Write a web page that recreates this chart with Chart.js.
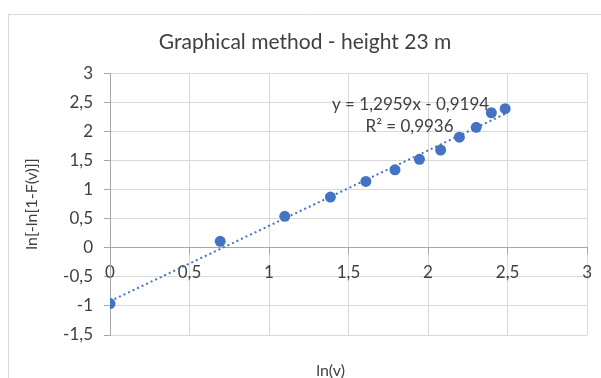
<!DOCTYPE html>
<html>
<head>
<meta charset="utf-8">
<title>Graphical method - height 23 m</title>
<script src="https://cdn.jsdelivr.net/npm/chart.js@4"></script>
<style>
    html, body { margin: 0; padding: 0; background: #fff; }
    #wrap { width: 601px; height: 378px; }
</style>
</head>
<body>
<div id="wrap"><canvas id="chart" width="601" height="378"></canvas></div>
<script>
// Data
const lnV = [0, 0.693, 1.099, 1.386, 1.609, 1.792, 1.946, 2.079, 2.197, 2.303, 2.398, 2.485];
const lnLnF = [-0.96, 0.11, 0.54, 0.87, 1.14, 1.34, 1.52, 1.68, 1.90, 2.07, 2.32, 2.39];
const xTicks = [0, 0.5, 1, 1.5, 2, 2.5, 3];
const yTicks = [-1.5, -1, -0.5, 0, 0.5, 1, 1.5, 2, 2.5, 3];

// Linear trendline as shown in the chart
const slope = 1.2959;
const intercept = -0.9194;
const rSquared = 0.9936;

const FONT = 'Lato, "Open Sans", sans-serif';
const TEXT = '#404040';
const GRID = '#d9d9d9';
const AXIS = '#a6a6a6';
const BLUE = '#4472C4';

// Decimal comma, like the original
function fmt(v) {
    return String(v).replace('.', ',');
}

// Trendline spans the range of the x data
const trendX = [Math.min(...lnV), Math.max(...lnV)];
const trendPoints = trendX.map(x => ({ x: x, y: slope * x + intercept }));
const points = lnV.map((x, i) => ({ x: x, y: lnLnF[i] }));

/**
 * Chart frame, x axis title and trendline label
 */
const excelExtras = {
    id: 'excelExtras',
    beforeDraw(chart) {
        const ctx = chart.ctx;
        ctx.save();
        ctx.fillStyle = '#fff';
        ctx.fillRect(0, 0, chart.width, chart.height);
        ctx.strokeStyle = GRID;
        ctx.lineWidth = 1;
        ctx.beginPath();
        ctx.moveTo(8.5, chart.height);
        ctx.lineTo(8.5, 14.5);
        ctx.lineTo(chart.width, 14.5);
        ctx.stroke();
        ctx.restore();
    },
    afterDatasetsDraw(chart) {
        const ctx = chart.ctx;
        const area = chart.chartArea;
        const xs = chart.scales.x;
        const ys = chart.scales.y;
        ctx.save();
        ctx.fillStyle = TEXT;
        ctx.textAlign = 'center';
        ctx.textBaseline = 'middle';

        // x axis title sits below the plot area
        ctx.font = '16px ' + FONT;
        ctx.fillText('ln(v)', (area.left + area.right) / 2 - 18, area.bottom + 36);

        // trendline equation
        ctx.font = '17px ' + FONT;
        const lx = xs.getPixelForValue(1.89);
        const ly = ys.getPixelForValue(2.46);
        ctx.fillText('y = ' + fmt(slope) + 'x - ' + fmt(-intercept), lx, ly);
        ctx.fillText('R\u00b2 = ' + fmt(rSquared), lx - 1, ly + 22);
        ctx.restore();
    }
};

new Chart(document.getElementById('chart').getContext('2d'), {
    type: 'scatter',
    data: {
        datasets: [{
            label: 'Trendline',
            data: trendPoints,
            showLine: true,
            borderColor: BLUE,
            borderWidth: 2,
            borderDash: [2, 3],
            pointRadius: 0,
            fill: false
        }, {
            label: 'ln[-ln[1-F(v)]]',
            data: points,
            backgroundColor: BLUE,
            borderWidth: 0,
            pointRadius: 5.5,
            showLine: false
        }]
    },
    options: {
        responsive: false,
        animation: false,
        layout: {
            padding: { left: 20, right: 11, top: 0, bottom: 43 }
        },
        plugins: {
            legend: { display: false },
            tooltip: { enabled: false },
            title: {
                display: true,
                text: 'Graphical method - height 23 m',
                color: TEXT,
                font: { family: FONT, size: 21, weight: 'normal' },
                padding: { top: 30, bottom: 18 }
            }
        },
        scales: {
            x: {
                type: 'linear',
                min: xTicks[0],
                max: xTicks[xTicks.length - 1],
                position: { y: 0 },
                afterBuildTicks: scale => {
                    scale.ticks = xTicks.map(v => ({ value: v }));
                },
                ticks: {
                    padding: 9,
                    maxRotation: 0,
                    autoSkip: false,
                    color: TEXT,
                    font: { family: FONT, size: 17 },
                    callback: v => fmt(v)
                },
                grid: { color: GRID, tickColor: AXIS, tickLength: 6 },
                border: { color: AXIS, width: 1 }
            },
            y: {
                type: 'linear',
                min: yTicks[0],
                max: yTicks[yTicks.length - 1],
                afterBuildTicks: scale => {
                    scale.ticks = yTicks.map(v => ({ value: v }));
                },
                afterFit: scale => {
                    scale.width = 90;
                },
                ticks: {
                    padding: 11,
                    autoSkip: false,
                    color: TEXT,
                    font: { family: FONT, size: 17 },
                    callback: v => fmt(v)
                },
                grid: { color: GRID, tickColor: AXIS, tickLength: 6 },
                border: { color: AXIS, width: 1 },
                title: {
                    display: true,
                    text: 'ln[-ln[1-F(v)]]',
                    color: TEXT,
                    font: { family: FONT, size: 16 },
                    padding: { top: 2, bottom: 0 }
                }
            }
        }
    },
    plugins: [excelExtras]
});
</script>
</body>
</html>
